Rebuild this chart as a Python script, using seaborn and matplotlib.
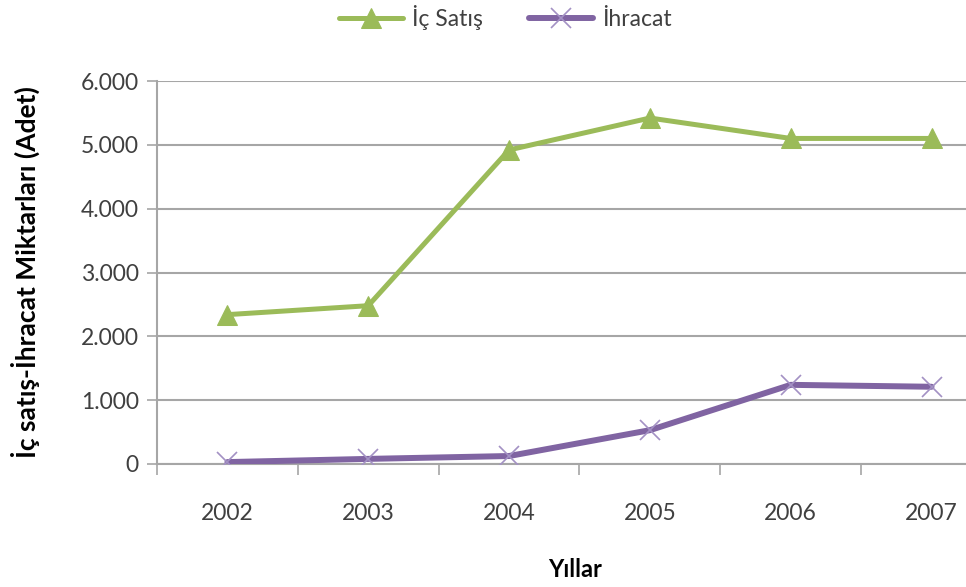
import matplotlib
matplotlib.use("Agg")
import matplotlib.pyplot as plt
import seaborn as sns
import numpy as np
import pandas as pd
from matplotlib.ticker import FixedLocator, FuncFormatter

years = [2002, 2003, 2004, 2005, 2006, 2007]
ic_satis = [2340, 2480, 4920, 5420, 5100, 5100]
ihracat = [30, 80, 125, 530, 1240, 1210]
series_names = ["İç Satış", "İhracat"]
y_ticks = [0, 1000, 2000, 3000, 4000, 5000, 6000]

sns.set_theme(style="white")
plt.rcParams['font.family'] = ['Lato', 'DejaVu Sans']

green = "#9BBB59"
purple = "#8064A2"
grid_c = "#A6A6A6"
text_c = "#404040"

fig = plt.figure(figsize=(9.66, 5.87), dpi=100)
ax = fig.add_axes([157/966, 1-464/587, 1-157/966, (464-81)/587])

df = pd.DataFrame({"Yıl": years, series_names[0]: ic_satis, series_names[1]: ihracat})

sns.lineplot(data=df, x="Yıl", y=series_names[0], ax=ax, color=green, linewidth=3.6,
             marker="^", markersize=15, markeredgecolor=green, markerfacecolor=green,
             label=series_names[0], zorder=3)
sns.lineplot(data=df, x="Yıl", y=series_names[1], ax=ax, color=purple, linewidth=4.3,
             marker="x", markersize=14, markeredgecolor="#A391C4", markeredgewidth=1.2,
             label=series_names[1], zorder=3)

ax.set_ylim(0, 6000)
right_lim = 2007.5 - (1002 - 966) / 141
ax.set_xlim(2001.5, right_lim)

ax.yaxis.set_major_locator(FixedLocator(y_ticks))
ax.yaxis.set_major_formatter(FuncFormatter(lambda v, p: f"{int(v):,}".replace(",", ".")))
ax.xaxis.set_major_locator(FixedLocator(years))
ax.xaxis.set_major_formatter(FuncFormatter(lambda v, p: str(int(round(v)))))
ax.xaxis.set_minor_locator(FixedLocator([y - 0.5 for y in years] + [2007.5]))

ax.grid(axis="y", color=grid_c, linewidth=1.5, zorder=0)
ax.set_axisbelow(True)
for s in ["top", "right"]:
    ax.spines[s].set_visible(False)
for s in ["left", "bottom"]:
    ax.spines[s].set_color(grid_c)
    ax.spines[s].set_linewidth(1.5)

ax.tick_params(axis="y", which="major", direction="out", length=7, width=1.2, color=grid_c,
               labelsize=16.5, labelcolor=text_c, pad=6, left=True)
ax.tick_params(axis="x", which="major", length=0, labelsize=16.5, labelcolor=text_c, pad=28)
ax.tick_params(axis="x", which="minor", direction="out", length=8, width=1.2, color=grid_c, bottom=True)

ax.set_ylabel("İç satış-İhracat Miktarları (Adet)", fontsize=19, fontweight="bold", color="black")
ax.yaxis.set_label_coords(-(157-40)/809, 0.5)
ax.set_xlabel("Yıllar", fontsize=17, fontweight="bold", color="black")
ax.xaxis.set_label_coords((575-157)/(966-157), -0.245)

leg = ax.legend(loc="center", bbox_to_anchor=((505-157)/(966-157), (464-18)/383),
                ncol=2, frameon=False, fontsize=16.5, handlelength=2.8, columnspacing=2.0,
                handletextpad=0.4, labelcolor=text_c)

fig.savefig("out.png", dpi=100)
